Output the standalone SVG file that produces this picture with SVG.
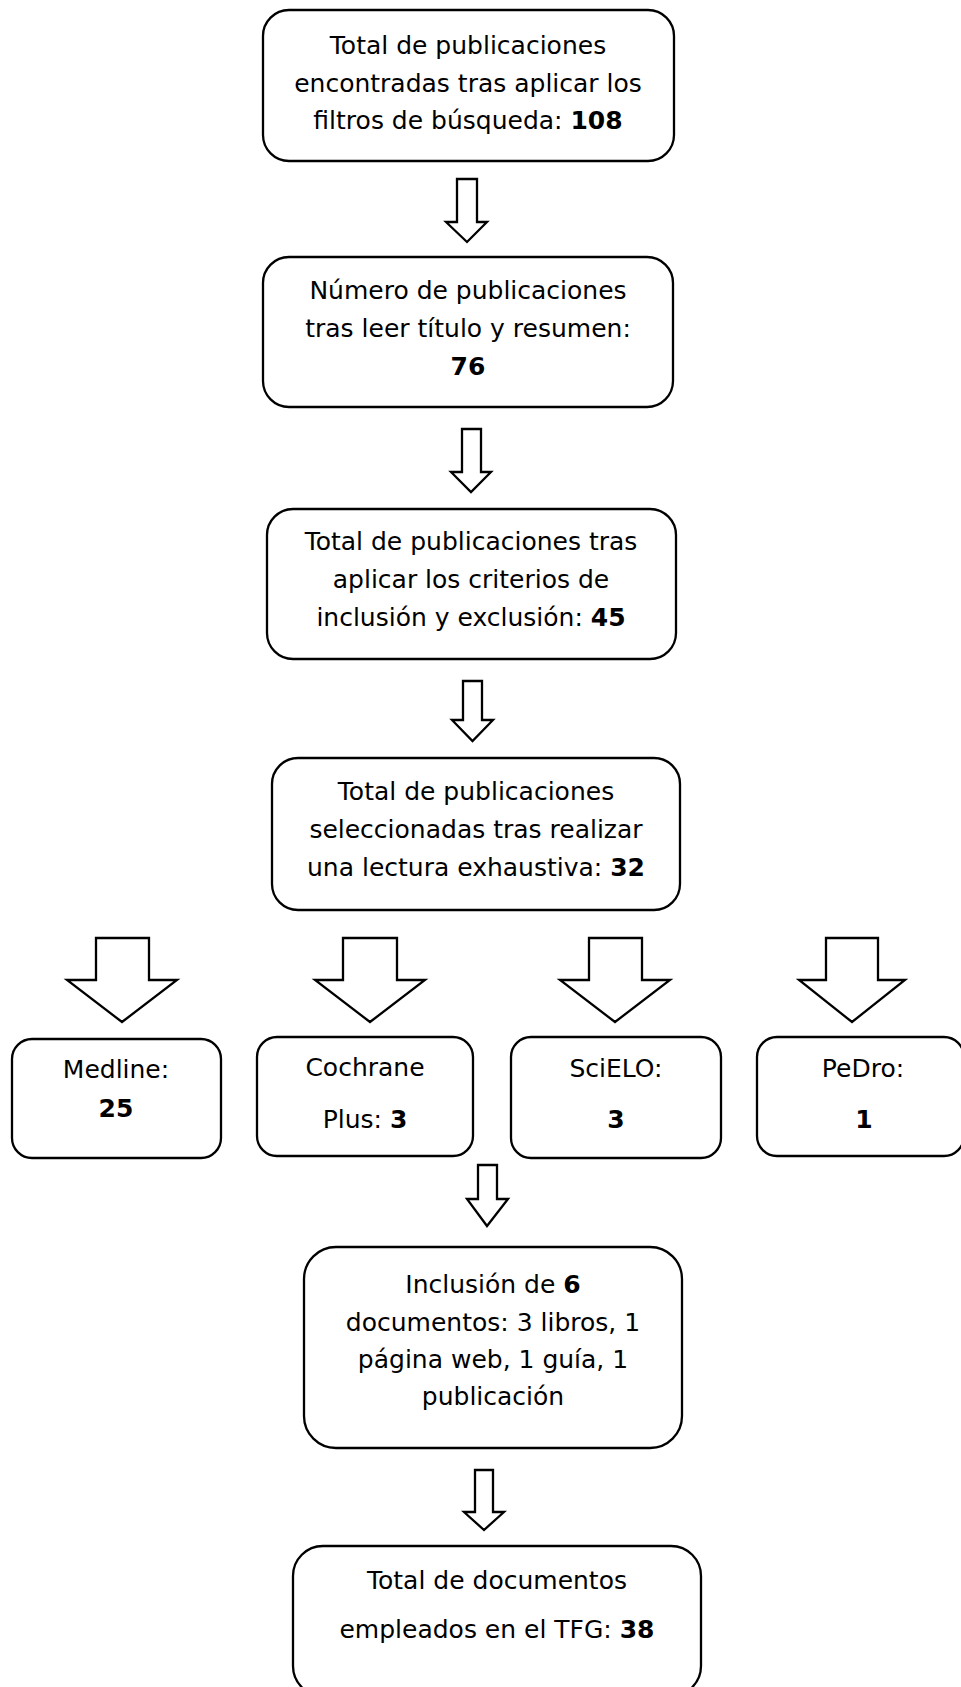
<svg xmlns="http://www.w3.org/2000/svg" width="961" height="1687" viewBox="0 0 961 1687">
<style>
.box{fill:#fff;stroke:#000;stroke-width:2.3}
.arr{fill:#fff;stroke:#000;stroke-width:2.3;stroke-linejoin:miter}
text{font-family:"DejaVu Sans",sans-serif;font-size:25px;fill:#000;text-anchor:middle}
.b{font-weight:bold}
</style>
<rect width="961" height="1687" fill="#fff"/>
<g id="n1">
<rect class="box" x="263" y="10" width="411" height="151" rx="26"/>
<text x="468" y="54">Total de publicaciones</text>
<text x="468" y="92">encontradas tras aplicar los</text>
<text x="468" y="129">filtros de búsqueda: <tspan class="b">108</tspan></text>
</g>
<g id="n2">
<rect class="box" x="263" y="257" width="410" height="150" rx="26"/>
<text x="468" y="299">Número de publicaciones</text>
<text x="468" y="337">tras leer título y resumen:</text>
<text x="468" y="375" class="b">76</text>
</g>
<g id="n3">
<rect class="box" x="267" y="509" width="409" height="150" rx="26"/>
<text x="471" y="550">Total de publicaciones tras</text>
<text x="471" y="588">aplicar los criterios de</text>
<text x="471" y="626">inclusión y exclusión: <tspan class="b">45</tspan></text>
</g>
<g id="n4">
<rect class="box" x="272" y="758" width="408" height="152" rx="26"/>
<text x="476" y="800">Total de publicaciones</text>
<text x="476" y="838">seleccionadas tras realizar</text>
<text x="476" y="876">una lectura exhaustiva: <tspan class="b">32</tspan></text>
</g>
<g id="medline">
<rect class="box" x="12" y="1039" width="209" height="119" rx="20"/>
<text x="116" y="1078">Medline:</text>
<text x="116" y="1117" class="b">25</text>
</g>
<g id="cochrane">
<rect class="box" x="257" y="1037" width="216" height="119" rx="20"/>
<text x="365" y="1076">Cochrane</text>
<text x="365" y="1128">Plus: <tspan class="b">3</tspan></text>
</g>
<g id="scielo">
<rect class="box" x="511" y="1037" width="210" height="121" rx="20"/>
<text x="616" y="1077">SciELO:</text>
<text x="616" y="1128" class="b">3</text>
</g>
<g id="pedro">
<rect class="box" x="757" y="1037" width="207" height="119" rx="20"/>
<text x="863" y="1077">PeDro:</text>
<text x="864" y="1128" class="b">1</text>
</g>
<g id="n5">
<rect class="box" x="304" y="1247" width="378" height="201" rx="32"/>
<text x="493" y="1293">Inclusión de <tspan class="b">6</tspan></text>
<text x="493" y="1331">documentos: 3 libros, 1</text>
<text x="493" y="1368">página web, 1 guía, 1</text>
<text x="493" y="1405">publicación</text>
</g>
<g id="n6">
<rect class="box" x="293" y="1546" width="408" height="150" rx="30"/>
<text x="497" y="1589">Total de documentos</text>
<text x="497" y="1638">empleados en el TFG: <tspan class="b">38</tspan></text>
</g>
<g id="connectors">
<polygon class="arr" points="457,179 477,179 477,222 487,222 467,242 446,222 457,222"/>
<polygon class="arr" points="462,429 481,429 481,472 491,472 471,492 451,472 462,472"/>
<polygon class="arr" points="463,681 482,681 482,720 493,720 472.5,741 452,720 463,720"/>
<polygon class="arr" points="96,938 149,938 149,980 177,980 122,1022 67,980 96,980"/>
<polygon class="arr" points="343,938 397,938 397,980 425,980 370,1022 315,980 343,980"/>
<polygon class="arr" points="589,938 642,938 642,980 670,980 615,1022 560,980 589,980"/>
<polygon class="arr" points="826,938 878,938 878,980 905,980 852,1022 799,980 826,980"/>
<polygon class="arr" points="478,1165 497,1165 497,1199 508,1199 487,1226 467,1199 478,1199"/>
<polygon class="arr" points="475,1470 493,1470 493,1512 504,1512 484,1530 464,1512 475,1512"/>
</g>
</svg>
